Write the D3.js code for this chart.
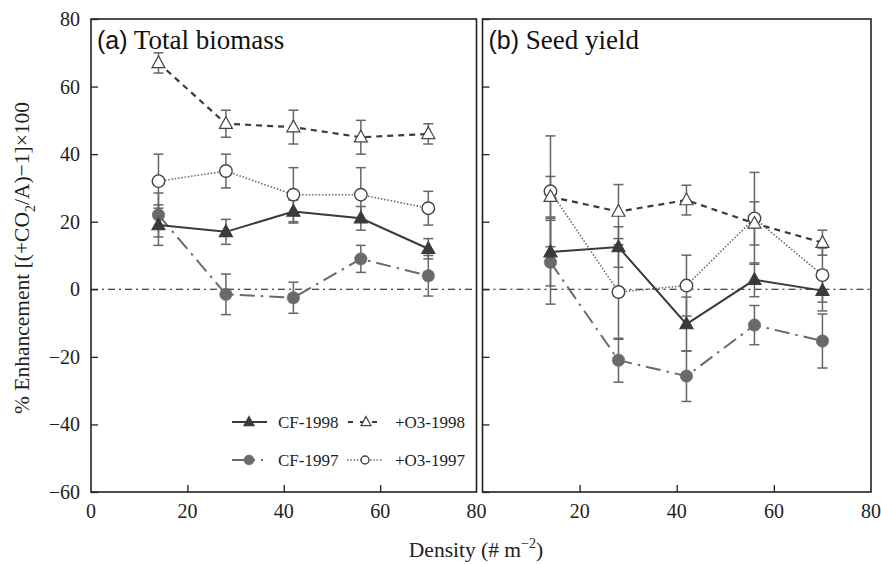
<!DOCTYPE html>
<html><head><meta charset="utf-8">
<script src="https://cdn.jsdelivr.net/npm/d3@7"></script>
<style>body{margin:0;background:#fff}svg{display:block}</style>
</head><body>
<svg id="c" width="881" height="564"></svg>
<script>
const density = [14, 28, 42, 56, 70];
const xTicksA = [0, 20, 40, 60, 80];
const xTicksB = [20, 40, 60, 80];
const yTicks = [-60, -40, -20, 0, 20, 40, 60, 80];

// Panel (a) Total biomass
const a_CF1998 = [19, 17, 23, 21, 12];
const a_CF1998_err = [6, 3.7, 3.4, 3.5, 3];
const a_O31998 = [67, 49, 48, 45, 46];
const a_O31998_err = [3, 4, 5, 5, 3];
const a_CF1997 = [22, -1.5, -2.5, 9, 4];
const a_CF1997_err = [6.5, 6, 4.6, 4, 6];
const a_O31997 = [32, 35, 28, 28, 24];
const a_O31997_err = [8, 5, 8, 8, 5];

// Panel (b) Seed yield
const b_CF1998 = [11, 12.5, -10.3, 2.8, -0.4];
const b_CF1998_err = [10, 6, 8, 5, 6];
const b_O31998 = [27.4, 23, 26.4, 19.5, 13.8];
const b_O31998_err = [6, 8, 4.4, 6.4, 3.7];
const b_CF1997 = [8, -21, -25.7, -10.6, -15.3];
const b_CF1997_err = [12.4, 6.5, 7.5, 5.8, 8];
const b_O31997 = [29, -0.8, 1.1, 21, 4.2];
const b_O31997_err = [16.4, 14, 9, 13.6, 8];

const seriesNames = ["CF-1998", "+O3-1998", "CF-1997", "+O3-1997"];

const svg = d3.select("#c");
const serif = "'Liberation Serif','Times New Roman',serif";
const sans = "'Liberation Sans',Arial,sans-serif";

const y = d3.scaleLinear().domain([-60, 80]).range([492, 19]);
const xa = d3.scaleLinear().domain([0, 80]).range([91, 476.5]);
const xb = d3.scaleLinear().domain([0, 80]).range([482.5, 871]);

const styles = {
  "CF-1998": {line: "#3a3a3a", dash: null, lw: 2, marker: "tri", fill: "#3a3a3a", stroke: "#3a3a3a"},
  "+O3-1998": {line: "#3a3a3a", dash: "6,5", lw: 2.2, marker: "tri", fill: "#fff", stroke: "#444"},
  "CF-1997": {line: "#6a6a6a", dash: "15,6,2.5,6", lw: 2, marker: "circ", fill: "#6a6a6a", stroke: "#6a6a6a"},
  "+O3-1997": {line: "#6a6a6a", dash: "1.5,1.8", lw: 1.6, marker: "circ", fill: "#fff", stroke: "#444"}
};

function marker(g, type, cx, cy, st, size) {
  if (type === "tri") {
    const s = size, h = s * 0.9;
    g.append("path")
      .attr("d", `M${cx},${cy - h * 0.6}L${cx + s / 2},${cy + h * 0.4}L${cx - s / 2},${cy + h * 0.4}Z`)
      .attr("fill", st.fill).attr("stroke", st.stroke).attr("stroke-width", 1.2);
  } else {
    g.append("circle").attr("cx", cx).attr("cy", cy).attr("r", size / 2)
      .attr("fill", st.fill).attr("stroke", st.stroke).attr("stroke-width", st.fill === "#fff" ? 1.4 : 0.5);
  }
}

function panel(x, data, label1, label2, yLabels, xTicks) {
  const g = svg.append("g");
  g.append("line").attr("x1", x.range()[0]).attr("x2", x.range()[1])
    .attr("y1", y(0)).attr("y2", y(0))
    .attr("stroke", "#111").attr("stroke-width", 1.1).attr("stroke-dasharray", "7,4,2,4");
  const yAx = d3.axisRight(y).tickValues(yTicks).tickSize(7).tickFormat("");
  g.append("g").attr("transform", `translate(${x.range()[0]},0)`).call(yAx)
    .call(s => { s.select(".domain").remove(); s.selectAll("line").attr("stroke", "#222").attr("stroke-width", 1.3); });
  const xAx = d3.axisTop(x).tickValues(xTicks.filter(t => t > 0 && t < 80)).tickSize(7).tickFormat("");
  g.append("g").attr("transform", `translate(0,${y.range()[0]})`).call(xAx)
    .call(s => { s.select(".domain").remove(); s.selectAll("line").attr("stroke", "#222").attr("stroke-width", 1.3); });
  if (yLabels) {
    g.selectAll(".yl").data(yTicks).enter().append("text")
      .attr("x", 80).attr("y", d => y(d)).attr("dy", "0.35em").attr("text-anchor", "end")
      .attr("font-family", serif).attr("font-size", 20).attr("fill", "#222")
      .text(d => d < 0 ? "\u2212" + Math.abs(d) : d);
  }
  g.selectAll(".xl").data(xTicks).enter().append("text")
    .attr("x", d => x(d)).attr("y", 518).attr("text-anchor", "middle")
    .attr("font-family", serif).attr("font-size", 20).attr("fill", "#222").text(d => d);

  data.forEach(sr => {
    sr.vals.forEach((v, i) => {
      const cx = x(density[i]), e = sr.err[i];
      g.append("line").attr("x1", cx).attr("x2", cx).attr("y1", y(v + e)).attr("y2", y(v - e))
        .attr("stroke", "#666").attr("stroke-width", 1.5);
      [v + e, v - e].forEach(t => g.append("line").attr("x1", cx - 5).attr("x2", cx + 5)
        .attr("y1", y(t)).attr("y2", y(t)).attr("stroke", "#666").attr("stroke-width", 1.5));
    });
  });
  data.forEach(sr => {
    const st = styles[sr.name];
    const line = d3.line().x((d, i) => x(density[i])).y(d => y(d));
    g.append("path").attr("d", line(sr.vals)).attr("fill", "none")
      .attr("stroke", st.line).attr("stroke-width", st.lw)
      .attr("stroke-dasharray", st.dash);
  });
  data.forEach(sr => {
    const st = styles[sr.name];
    sr.vals.forEach((v, i) => marker(g, st.marker, x(density[i]), y(v), st, st.marker === "tri" ? 13 : 12.5));
  });
  g.append("rect").attr("x", x.range()[0]).attr("y", y.range()[1])
    .attr("width", x.range()[1] - x.range()[0]).attr("height", y.range()[0] - y.range()[1])
    .attr("fill", "none").attr("stroke", "#222").attr("stroke-width", 1.6);
  const t = g.append("text").attr("x", x.range()[0] + 6).attr("y", 49).attr("fill", "#111");
  t.append("tspan").attr("font-family", sans).attr("font-size", 25).text(label1);
  t.append("tspan").attr("font-family", serif).attr("font-size", 27).text(" " + label2);
}

panel(xa, [
  {name: "CF-1997", vals: a_CF1997, err: a_CF1997_err},
  {name: "+O3-1997", vals: a_O31997, err: a_O31997_err},
  {name: "+O3-1998", vals: a_O31998, err: a_O31998_err},
  {name: "CF-1998", vals: a_CF1998, err: a_CF1998_err}
], "(a)", "Total biomass", true, xTicksA);

panel(xb, [
  {name: "CF-1997", vals: b_CF1997, err: b_CF1997_err},
  {name: "+O3-1997", vals: b_O31997, err: b_O31997_err},
  {name: "+O3-1998", vals: b_O31998, err: b_O31998_err},
  {name: "CF-1998", vals: b_CF1998, err: b_CF1998_err}
], "(b)", "Seed yield", false, xTicksB);

const leg = svg.append("g");
const legPos = [
  {name: "CF-1998", x1: 232, x2: 267, mx: 249, tx: 278, ty: 422},
  {name: "+O3-1998", x1: 348, x2: 382, mx: 366, tx: 395, ty: 422},
  {name: "CF-1997", x1: 232, x2: 268, mx: 249, tx: 278, ty: 460},
  {name: "+O3-1997", x1: 347, x2: 383, mx: 365, tx: 395, ty: 460}
];
legPos.forEach(p => {
  const st = styles[p.name];
  let dash = st.dash;
  if (p.name === "+O3-1998") dash = "5,7";
  if (p.name === "CF-1997") dash = "17,4,2,6,2,6";
  leg.append("line").attr("x1", p.x1).attr("x2", p.x2).attr("y1", p.ty).attr("y2", p.ty)
    .attr("stroke", st.line).attr("stroke-width", st.lw).attr("stroke-dasharray", dash);
  marker(leg, st.marker, p.mx, p.ty, st, st.marker === "tri" ? 10 : (st.fill === "#fff" ? 8 : 10));
  leg.append("text").attr("x", p.tx).attr("y", p.ty).attr("dy", "0.35em")
    .attr("font-family", serif).attr("font-size", 17).attr("fill", "#222").text(p.name);
});

const xt = svg.append("text").attr("x", 476).attr("y", 557).attr("text-anchor", "middle")
  .attr("font-family", serif).attr("font-size", 21.5).attr("fill", "#222");
xt.append("tspan").text("Density (# m");
xt.append("tspan").attr("font-size", 14).attr("dy", -9).text("\u22122");
xt.append("tspan").attr("dy", 9).text(")");

const yt = svg.append("text").attr("transform", "translate(29,258) rotate(-90)")
  .attr("text-anchor", "middle").attr("font-family", serif).attr("font-size", 21.5).attr("fill", "#222");
yt.append("tspan").text("% Enhancement [(+CO");
yt.append("tspan").attr("font-size", 14).attr("dy", 6).text("2");
yt.append("tspan").attr("dy", -6).text("/A)\u22121]\u00d7100");
</script>
</body></html>
